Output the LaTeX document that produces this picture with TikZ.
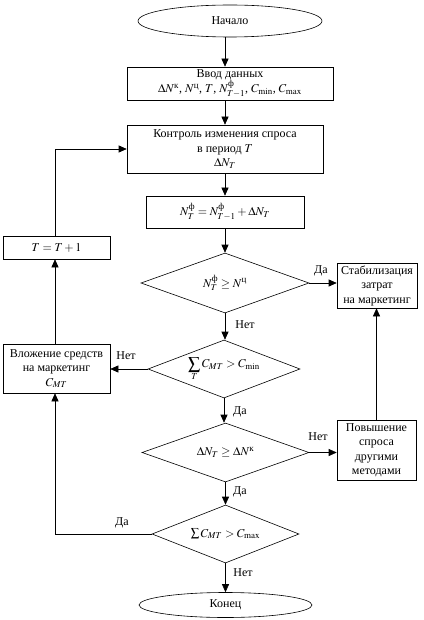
\documentclass[tikz,border=0pt]{standalone}
\usepackage{amsmath}
\usepackage{mathptmx}
\usepackage{fontspec}
\setmainfont{Liberation Serif}
\usetikzlibrary{shapes.geometric,arrows.meta,calc}
\begin{document}
\begin{tikzpicture}[x=1pt,y=-1pt,
  font=\fontsize{12}{14.5}\selectfont,
  line width=0.6pt,
  every node/.style={inner sep=1pt},
  term/.style={ellipse, draw, inner sep=0pt},
  blk/.style={rectangle, draw, align=center, inner sep=1pt},
  cond/.style={diamond, draw, inner sep=0pt},
  arr/.style={-{Triangle[length=8pt,width=7pt]}},
  lbl/.style={inner sep=1pt}
]
\useasboundingbox (0,0) rectangle (423,620);
\coordinate (col) at (225,0);
\coordinate (lcol) at (55,0);

\node[term, minimum width=184, minimum height=32] (start) at (230,21) {Начало};
\node[blk, minimum width=206, minimum height=33] (input) at (230,83.5)
  {Ввод данных\\[0pt] $\Delta N^{\text{к}}$, $N^{\text{ц}}$, $T$, $N^{\text{ф}}_{T-1}$, $C_{\min}$, $C_{\max}$};
\node[blk, minimum width=196, minimum height=48] (control) at (225,149)
  {Контроль изменения спроса\\ в период $T$\\ $\Delta N_T$};
\node[blk, minimum width=158, minimum height=32] (formula) at (225,212)
  {$N^{\text{ф}}_{T} = N^{\text{ф}}_{T-1} + \Delta N_T$};
\node[blk, minimum width=107, minimum height=23] (tinc) at (56.5,247.5) {$T = T + 1$};
\node[cond, minimum width=168, minimum height=60] (d1) at (225,283) {};
\node (d1t) at (d1) {$N^{\text{ф}}_{T} \geq N^{\text{ц}}$};
\node[blk, minimum width=80, minimum height=45] (stab) at (377,285.5)
  {Стабилизация\\ затрат\\ на маркетинг};
\node[cond, minimum width=152, minimum height=58] (d2) at (224,369) {};
\node (d2t) at (d2) {$\displaystyle\sum_{T} C_{MT} > C_{\min}$};
\node[blk, minimum width=107, minimum height=49] (vlozh) at (56.5,368.5)
  {Вложение средств\\ на маркетинг\\ $C_{MT}$};
\node[cond, minimum width=167, minimum height=59] (d3) at (225.5,452.5) {};
\node (d3t) at (d3) {$\Delta N_T \geq \Delta N^{\text{к}}$};
\node[blk, minimum width=79, minimum height=60] (pov) at (376.5,450)
  {Повышение\\ спроса\\ другими\\ методами};
\node[cond, minimum width=147, minimum height=58] (d4) at (225.5,534) {};
\node (d4t) at (d4) {$\sum C_{MT} > C_{\max}$};
\node[term, minimum width=173, minimum height=25] (end) at (225.5,605) {Конец};

\draw[arr] (start.south -| col) -- (input.north -| col);
\draw[arr] (input.south -| col) -- (control.north);
\draw[arr] (control) -- (formula);
\draw[arr] (formula) -- (d1);
\draw[arr] (d1.east) -- (stab.west |- d1.east);
\node[lbl] (l1) at (321,271) {Да};
\draw[arr] (d1.south) -- (d2.north -| d1.south);
\node[lbl] (l2) at (245,325) {Нет};
\draw[arr] (d2.west) -- (vlozh.east |- d2.west);
\node[lbl] (l3) at (126,356) {Нет};
\draw[arr] (d2.south) -- (d3.north -| d2.south);
\node[lbl] (l4) at (240,412) {Да};
\draw[arr] (d3.east) -- (pov.west |- d3.east);
\node[lbl] (l5) at (318,437) {Нет};
\draw[arr] (pov.north) -- (stab.south -| pov.north);
\draw[arr] (d3.south) -- (d4.north -| d3.south);
\node[lbl] (l6) at (240,492) {Да};
\draw[arr] (d4.west) -- (d4.west -| lcol) -- (vlozh.south -| lcol);
\node[lbl] (l7) at (122,523) {Да};
\draw[arr] (d4.south) -- (end.north -| d4.south);
\node[lbl] (l8) at (243,573) {Нет};
\draw[arr] (vlozh.north -| lcol) -- (tinc.south -| lcol);
\draw[arr] (tinc.north -| lcol) -- (lcol |- control.west) -- (control.west);
\end{tikzpicture}
\end{document}
